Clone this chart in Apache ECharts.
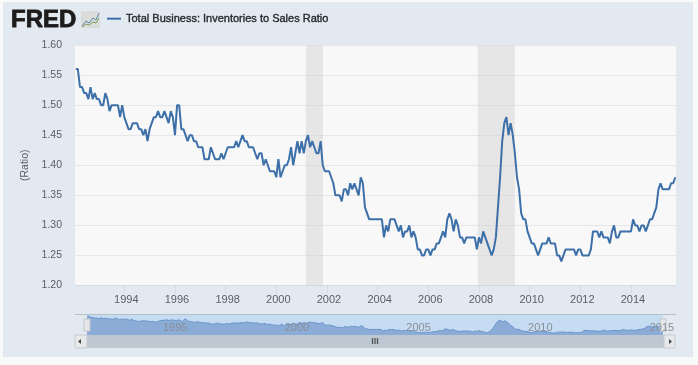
<!DOCTYPE html>
<html><head><meta charset="utf-8">
<script src="https://cdn.jsdelivr.net/npm/echarts@6/dist/echarts.min.js"></script>
<style>html,body{margin:0;padding:0;background:#f8f9f9;}
#panel{position:absolute;left:3px;top:2px;width:690px;height:355px;background:#e2e9f0;}
#c{position:absolute;left:0;top:0;width:698px;height:365px;}</style>
</head><body><div id="panel"></div><div id="c"></div>
<script>
const seriesName = 'Total Business: Inventories to Sales Ratio';
const firstYear = 1992, firstMonth = 1; // February 1992, zero-based month
const ratioValues = [
1.56,1.56,1.53,1.53,1.52,1.52,1.51,1.53,1.51,1.52,1.51,1.51,
1.50,1.50,1.52,1.51,1.49,1.50,1.50,1.50,1.50,1.48,1.50,1.48,
1.47,1.46,1.46,1.47,1.47,1.47,1.46,1.46,1.45,1.46,1.44,1.46,
1.47,1.48,1.48,1.49,1.48,1.48,1.49,1.48,1.47,1.49,1.48,1.45,
1.50,1.50,1.46,1.46,1.45,1.44,1.45,1.45,1.44,1.44,1.43,1.43,
1.43,1.41,1.41,1.41,1.43,1.42,1.41,1.41,1.41,1.42,1.41,1.42,
1.43,1.43,1.43,1.43,1.44,1.43,1.44,1.45,1.44,1.44,1.43,1.43,
1.43,1.42,1.41,1.42,1.42,1.40,1.41,1.40,1.39,1.39,1.39,1.38,
1.41,1.38,1.39,1.40,1.40,1.41,1.43,1.40,1.42,1.44,1.42,1.44,
1.42,1.44,1.45,1.43,1.44,1.43,1.42,1.42,1.44,1.40,1.39,1.39,
1.39,1.38,1.37,1.35,1.35,1.35,1.34,1.36,1.36,1.35,1.37,1.36,
1.37,1.36,1.35,1.38,1.37,1.33,1.32,1.31,1.31,1.31,1.31,1.31,
1.31,1.31,1.28,1.30,1.29,1.31,1.31,1.31,1.30,1.29,1.30,1.28,
1.29,1.29,1.30,1.28,1.29,1.28,1.26,1.26,1.25,1.25,1.26,1.26,
1.25,1.26,1.26,1.27,1.27,1.28,1.29,1.28,1.31,1.32,1.31,1.29,
1.31,1.30,1.28,1.28,1.27,1.28,1.28,1.28,1.28,1.28,1.26,1.28,
1.27,1.29,1.28,1.27,1.26,1.25,1.26,1.28,1.33,1.38,1.44,1.47,
1.48,1.45,1.47,1.45,1.42,1.38,1.36,1.32,1.31,1.31,1.29,1.28,
1.27,1.27,1.26,1.25,1.26,1.27,1.27,1.27,1.28,1.27,1.27,1.27,
1.25,1.25,1.24,1.25,1.26,1.26,1.26,1.26,1.26,1.25,1.26,1.26,
1.25,1.25,1.25,1.25,1.26,1.29,1.29,1.29,1.28,1.29,1.28,1.28,
1.28,1.27,1.29,1.30,1.28,1.28,1.29,1.29,1.29,1.29,1.29,1.29,
1.31,1.30,1.30,1.29,1.30,1.30,1.29,1.30,1.31,1.31,1.32,1.33,
1.36,1.37,1.36,1.36,1.36,1.36,1.37,1.37,1.38];
const yearTicks = [1994,1996,1998,2000,2002,2004,2006,2008,2010,2012,2014];
const navigatorTicks = [1995,2000,2005,2010,2015];
const recessions = [[2001.167,2001.84],[2007.95,2009.417]];

const points = ratioValues.map((v,i)=>[firstYear+(firstMonth+i)/12, v]);
const lineColor = '#3d70a9', labelColor = '#5a5f66', font = '"Liberation Sans",Arial,sans-serif';

const chart = echarts.init(document.getElementById('c'),null,{renderer:'canvas'});
chart.setOption({
  animation:false,
  textStyle:{fontFamily:font},
  legend:{data:[{name:seriesName,icon:'rect'}],left:107,top:13,padding:0,itemWidth:14,itemHeight:2,itemGap:4,
    textStyle:{fontFamily:font,fontSize:11,color:'#26282c',textBorderColor:'#26282c',textBorderWidth:0.35}},
  grid:[{left:75,top:45,width:601,height:240.5},{left:87,top:316,width:576,height:19}],
  xAxis:[{type:'value',gridIndex:0,min:1992.054,max:2015.777,splitLine:{show:false},
      axisLine:{show:true,onZero:false,lineStyle:{color:'#d3dbe3',width:1}},
      axisTick:{show:true,length:8,lineStyle:{color:'#d3dbe3'},customValues:yearTicks},
      axisLabel:{color:labelColor,fontSize:11,margin:7,padding:[2,0,0,4],customValues:yearTicks,formatter:v=>String(v),fontFamily:font}},
    {type:'value',gridIndex:1,min:1992.083,max:2015.75,z:4,splitLine:{show:false},axisLine:{show:false},axisTick:{show:false},
      axisLabel:{inside:true,margin:2,color:'#8a8f96',fontSize:11,align:'left',padding:[0,0,0,5],customValues:navigatorTicks,formatter:v=>String(v),fontFamily:font}}],
  yAxis:[{type:'value',gridIndex:0,min:1.2,max:1.6,interval:0.05,name:'(Ratio)',nameLocation:'middle',nameGap:44,nameRotate:90,
      nameTextStyle:{color:labelColor,fontSize:10.5,fontFamily:font},
      axisLine:{show:false},axisTick:{show:false},
      axisLabel:{color:labelColor,fontSize:10.5,margin:13,padding:[2,0,0,0],formatter:v=>v.toFixed(2),fontFamily:font},
      splitLine:{lineStyle:{color:'#e7e7e7',width:1}}},
    {type:'value',gridIndex:1,min:1.207,max:1.56,show:false}],
  series:[
    {name:seriesName,type:'line',xAxisIndex:0,yAxisIndex:0,data:points,showSymbol:false,smooth:false,
      lineStyle:{color:lineColor,width:2},itemStyle:{color:lineColor},z:5,
      markArea:{silent:true,itemStyle:{color:'rgba(205,205,205,0.42)'},data:recessions.map(r=>[{xAxis:r[0]},{xAxis:r[1]}])}},
    {name:'navigator',type:'line',xAxisIndex:1,yAxisIndex:1,data:points,showSymbol:false,
      lineStyle:{color:'#6b94c8',width:1},itemStyle:{color:'#6b94c8'},areaStyle:{color:'#8bacd7',opacity:1},z:2}
  ],
  graphic:[
    {type:'rect',z:-1,shape:{x:75,y:45,width:601,height:241},style:{fill:'#f8f8f8'},silent:true},
    {type:'rect',z:-1,shape:{x:87,y:315,width:576,height:20},style:{fill:'#c6dcf3'},silent:true},
    {type:'rect',z:-1,shape:{x:75,y:314,width:601,height:1},style:{fill:'#b9bfc6'},silent:true},
    {type:'rect',z:3,shape:{x:87,y:335,width:577,height:13},style:{fill:'#bec8d2'},silent:true},
    {type:'rect',z:6,shape:{x:75,y:335,width:12,height:13},style:{fill:'#e6e8ea',stroke:'#c8ccd0'},silent:true},
    {type:'rect',z:6,shape:{x:664,y:335,width:11,height:13},style:{fill:'#e6e8ea',stroke:'#c8ccd0'},silent:true},
    {type:'polygon',z:7,shape:{points:[[78,341.5],[81,339],[81,344]]},style:{fill:'#444'},silent:true},
    {type:'polygon',z:7,shape:{points:[[672,341.5],[669,339],[669,344]]},style:{fill:'#444'},silent:true},
    {type:'rect',z:3,shape:{x:84,y:319,width:6,height:12},style:{fill:'#e4e6e8',stroke:'#c4c8cc'},silent:true},
    {type:'rect',z:3,shape:{x:660,y:319,width:6,height:12},style:{fill:'#e4e6e8',stroke:'#c4c8cc'},silent:true},
    {type:'text',z:7,style:{x:375,y:342,text:'III',fill:'#555',font:'bold 9px '+font,textAlign:'center',textVerticalAlign:'middle'},silent:true},
    {type:'text',z:7,style:{x:11,y:20.5,text:'FRED',fill:'#1d1b1b',stroke:'#1d1b1b',lineWidth:0.8,font:'bold 24px '+font,textAlign:'left',textVerticalAlign:'middle'},silent:true},
    {type:'rect',z:7,shape:{x:81,y:11,width:19,height:17,r:2},style:{fill:'#d9dcd8'},silent:true},
    {type:'polyline',z:8,shape:{points:[[82,26],[86,21],[89,23],[93,18],[96,20],[99,13]]},style:{stroke:'#5c86ad',fill:'none',lineWidth:1},silent:true},
    {type:'polyline',z:8,shape:{points:[[82,27],[86,24],[89,25],[93,22],[96,23],[99,18]]},style:{stroke:'#7fa05a',fill:'none',lineWidth:1},silent:true}
  ]
});
</script></body></html>
